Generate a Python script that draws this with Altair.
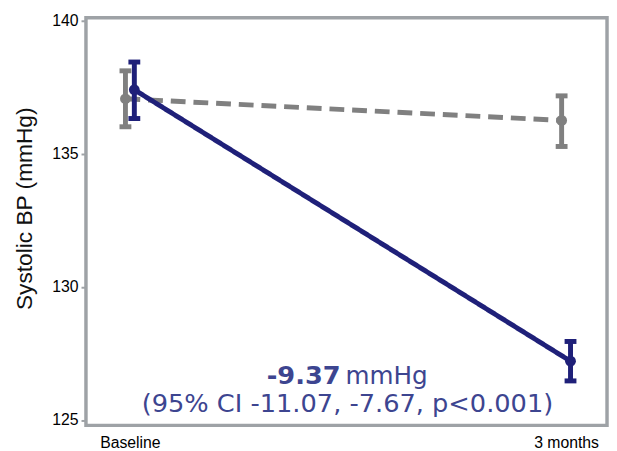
import altair as alt
import pandas as pd

timepoints = ["Baseline", "3 months"]
time_index = [0, 1]

groups = ["Control", "Intervention"]
control_mean = [137.06, 136.25]
control_lower = [136.01, 135.27]
control_upper = [138.11, 137.17]
interv_mean = [137.40, 127.21]
interv_lower = [136.32, 126.47]
interv_upper = [138.44, 127.95]

y_ticks = [125, 130, 135, 140]
y_title = "Systolic BP (mmHg)"
effect_bold = "-9.37"
effect_unit = "mmHg"
effect_ci = "(95% CI -11.07, -7.67, p<0.001)"

dodge = {"Control": -0.0102, "Intervention": 0.0102}
rows = []
for g, m, lo, hi in [("Control", control_mean, control_lower, control_upper),
                     ("Intervention", interv_mean, interv_lower, interv_upper)]:
    for i, t in enumerate(timepoints):
        rows.append({"group": g, "time": t, "xpos": time_index[i] + dodge[g],
                     "mean": m[i], "lower": lo[i], "upper": hi[i]})
df = pd.DataFrame(rows)

NAVY = "#1f2079"
GRAY = "#808080"
TEXT = "#3d4590"
FRAME = "#9ea2a6"

x_enc = alt.X("xpos:Q",
              scale=alt.Scale(domain=[-0.1007, 1.0939], nice=False, zero=False),
              axis=alt.Axis(values=time_index, title=None, grid=False, ticks=False,
                            domain=False, labelFont="Liberation Sans", labelFontSize=16,
                            labelColor="black", labelPadding=9,
                            labelExpr="datum.value == 0 ? 'Baseline' : '3 months'"))
y_enc = alt.Y("mean:Q",
              scale=alt.Scale(domain=[124.8, 140.1], nice=False, zero=False),
              axis=alt.Axis(values=y_ticks, title=y_title, grid=False,
                            domain=False, tickColor=FRAME, tickSize=5, tickWidth=2,
                            labelFont="Liberation Sans", labelFontSize=16,
                            labelColor="black", labelPadding=3,
                            titleFont="Liberation Sans", titleFontSize=23,
                            titleFontWeight="normal", titleColor="#111111",
                            titleX=-62, titleY=193, titleBaseline="middle"))

base = alt.Chart(df)

def series(g, color, dash):
    d = base.transform_filter(alt.datum.group == g)
    line = d.mark_line(color=color, strokeWidth=5, strokeDash=dash).encode(x=x_enc, y=y_enc)
    rule = d.mark_rule(color=color, strokeWidth=5, opacity=1).encode(x=x_enc, y="lower:Q", y2="upper:Q")
    cap_lo = d.mark_tick(color=color, orient="horizontal", size=12, thickness=5, opacity=1).encode(x=x_enc, y="lower:Q")
    cap_hi = d.mark_tick(color=color, orient="horizontal", size=12, thickness=5, opacity=1).encode(x=x_enc, y="upper:Q")
    pts = d.mark_circle(color=color, size=120, opacity=1).encode(x=x_enc, y=y_enc)
    return [line, rule, cap_lo, cap_hi, pts]

layers = series("Control", GRAY, [15, 8]) + series("Intervention", NAVY, [1, 0])

ann_df = pd.DataFrame({"bold": [effect_bold], "unit": [effect_unit], "ci": [effect_ci]})
ann = alt.Chart(ann_df)
t1 = ann.mark_text(font="DejaVu Sans", fontSize=26, fontWeight="bold", color=TEXT,
                   align="right", baseline="alphabetic").encode(
    text="bold:N", x=alt.value(258), y=alt.value(371))
t2 = ann.mark_text(font="DejaVu Sans", fontSize=25, color=TEXT,
                   align="left", baseline="alphabetic").encode(
    text="unit:N", x=alt.value(263), y=alt.value(371))
t3 = ann.mark_text(font="DejaVu Sans", fontSize=26, color=TEXT,
                   align="center", baseline="alphabetic").encode(
    text="ci:N", x=alt.value(265), y=alt.value(399))

chart = alt.layer(*layers, t1, t2, t3).properties(
    width=528, height=413,
    background="white",
    autosize=alt.AutoSizeParams(type="none"),
    padding={"left": 79, "top": 7, "right": 2, "bottom": 23},
).configure_view(stroke=FRAME, strokeWidth=3.5)

chart.save("out.html", embed_options={"renderer": "svg", "actions": False})
